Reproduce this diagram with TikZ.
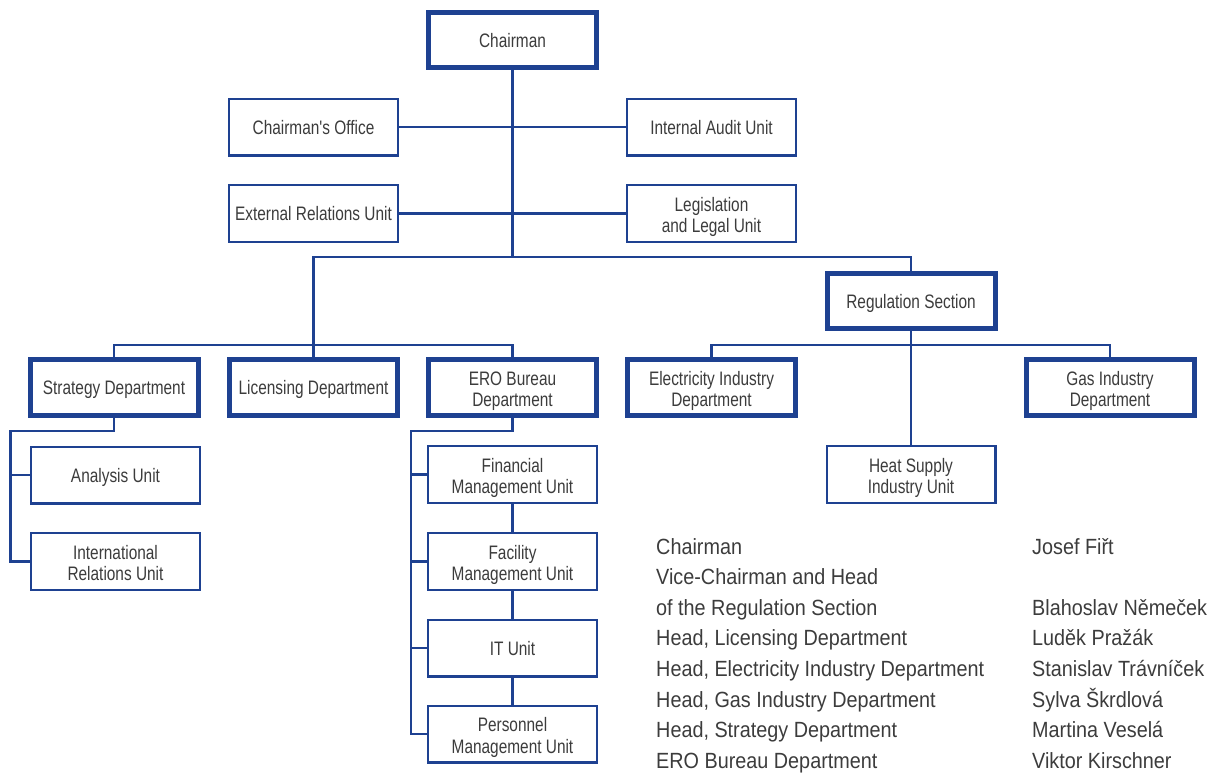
\documentclass[tikz,border=0pt]{standalone}
\usepackage{fontspec}
\newfontfamily\boxfont[FakeStretch=0.79]{Liberation Sans}
\newfontfamily\listfont[FakeStretch=0.9]{Liberation Sans}
\definecolor{ero}{HTML}{1E4191}
\definecolor{txt}{HTML}{3C3C3C}
\newcommand\myboxfont{\boxfont\fontsize{19.5}{21.5}\selectfont\lineskiplimit=-100pt\relax}
\newcommand\mystrut{\vrule height 19pt depth 5pt width 0pt\relax}
\newcommand\tl{\vrule height 21.5pt depth 5pt width 0pt\relax}
\tikzset{
  unitbox/.style={draw=ero, fill=white, line width=2.3pt, minimum width=168.7pt, minimum height=56.7pt,
    inner sep=0pt, align=center, text=txt, font=\myboxfont,
    execute at begin node=\mystrut,
    execute at end node=\mystrut},
  deptbox/.style={unitbox, line width=5pt, minimum width=168pt, minimum height=55.5pt},
  conn/.style={draw=ero, line width=2.3pt, line join=miter},
  listtext/.style={anchor=base west, inner sep=0pt, text=txt, font=\listfont\fontsize{22}{24}\selectfont}
}
\begin{document}
\begin{tikzpicture}[x=1pt,y=-1pt]
\useasboundingbox (0,0) rectangle (1212,772);
% boxes
\node[deptbox] (chair) at (512.5,40) {Chairman};
\node[unitbox] (office) at (313.5,127) {Chairman's Office};
\node[unitbox] (audit) at (711.5,127) {Internal Audit Unit};
\node[unitbox] (ext) at (313.5,213.5) {External Relations Unit};
\node[unitbox] (legal) at (711.5,213.5) {\tl Legislation\\and Legal Unit};
\node[deptbox] (reg) at (911,301) {Regulation Section};
\node[deptbox] (strat) at (114,387.5) {Strategy Department};
\node[deptbox] (lic) at (313.5,387.5) {Licensing Department};
\node[deptbox] (bureau) at (512.5,387.5) {\tl ERO Bureau\\Department};
\node[deptbox] (elec) at (711.5,387.5) {\tl Electricity Industry\\Department};
\node[deptbox] (gas) at (1110,387.5) {\tl Gas Industry\\Department};
\node[unitbox] (heat) at (911,474.5) {\tl Heat Supply\\Industry Unit};
\node[unitbox] (anal) at (115.5,475) {Analysis Unit};
\node[unitbox] (intl) at (115.5,561.5) {\tl International\\Relations Unit};
\node[unitbox] (fin) at (512.5,474.5) {\tl Financial\\Management Unit};
\node[unitbox] (fac) at (512.5,561.5) {\tl Facility\\Management Unit};
\node[unitbox] (it) at (512.5,648) {IT Unit};
\node[unitbox] (pers) at (512.5,734) {\tl Personnel\\Management Unit};
% bus coordinates
\coordinate (b1) at (0,257);
\coordinate (b2) at (0,345);
\coordinate (b3) at (0,431);
\coordinate (sx) at (10.5,0);
\coordinate (ex) at (411,0);
% connectors
\draw[conn] (chair.south) -- (chair.south |- b1);
\draw[conn] (office.east) -- (audit.west);
\draw[conn] (ext.east) -- (legal.west);
\draw[conn] (lic.north |- b2) -- (lic.north |- b1) -- (reg.north |- b1) -- (reg.north);
\draw[conn] (strat.north) -- (strat.north |- b2) -- (bureau.north |- b2) -- (bureau.north);
\draw[conn] (lic.north) -- (lic.north |- b2);
\draw[conn] (elec.north) -- (elec.north |- b2) -- (gas.north |- b2) -- (gas.north);
\draw[conn] (reg.south) -- (heat.north);
\draw[conn] (strat.south) -- (strat.south |- b3) -- (sx |- b3) -- (sx |- intl.west) -- (intl.west);
\draw[conn] (sx |- anal.west) -- (anal.west);
\draw[conn] (bureau.south) -- (bureau.south |- b3) -- (ex |- b3) -- (ex |- pers.west) -- (pers.west);
\draw[conn] (ex |- fin.west) -- (fin.west);
\draw[conn] (ex |- fac.west) -- (fac.west);
\draw[conn] (ex |- it.west) -- (it.west);
\draw[conn] (fin.south) -- (fac.north);
\draw[conn] (fac.south) -- (it.north);
\draw[conn] (it.south) -- (pers.north);
% list
\node[listtext] (l1) at (656,554) {Chairman};
\node[listtext] (l2) at (656,584.6) {Vice-Chairman and Head};
\node[listtext] (l3) at (656,615.2) {of the Regulation Section};
\node[listtext] (l4) at (656,645.8) {Head, Licensing Department};
\node[listtext] (l5) at (656,676.4) {Head, Electricity Industry Department};
\node[listtext] (l6) at (656,707) {Head, Gas Industry Department};
\node[listtext] (l7) at (656,737.6) {Head, Strategy Department};
\node[listtext] (l8) at (656,768.2) {ERO Bureau Department};
\node[listtext] (r1) at (1032,554) {Josef Fiřt};
\node[listtext] (r3) at (1032,615.2) {Blahoslav Němeček};
\node[listtext] (r4) at (1032,645.8) {Luděk Pražák};
\node[listtext] (r5) at (1032,676.4) {Stanislav Trávníček};
\node[listtext] (r6) at (1032,707) {Sylva Škrdlová};
\node[listtext] (r7) at (1032,737.6) {Martina Veselá};
\node[listtext] (r8) at (1032,768.2) {Viktor Kirschner};
\end{tikzpicture}
\end{document}
